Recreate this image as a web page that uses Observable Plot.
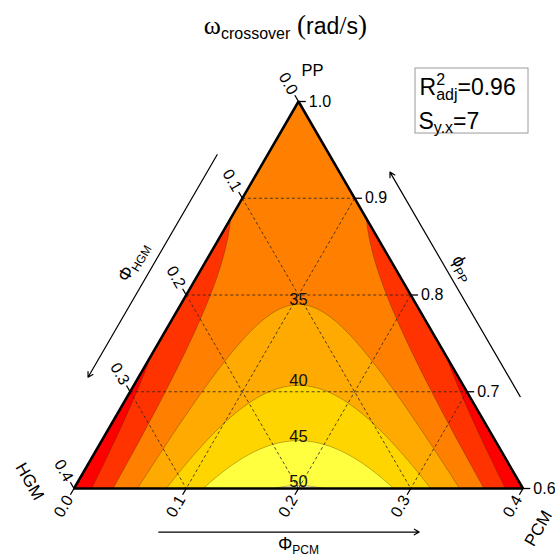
<!DOCTYPE html>
<html>
<head>
<meta charset="utf-8">
<script src="https://cdn.jsdelivr.net/npm/d3@7"></script>
<script src="https://cdn.jsdelivr.net/npm/@observablehq/plot@0.6"></script>
<style>
  body { margin: 0; background: #fff; }
  #chart { width: 555px; height: 556px; }
</style>
</head>
<body>
<div id="chart"></div>
<script>
// Mixture components; fractions PP + PCM + HGM = 1
const components = ["PP", "PCM", "HGM"];

// Scheffé quadratic mixture model of the crossover frequency (rad/s)
const linearCoef = [34.6, 5.7, 5.7];            // PP, PCM, HGM
const blendPairs = [[0, 1], [0, 2], [1, 2]];    // PP·PCM, PP·HGM, PCM·HGM
const blendCoef = [-10.5, -10.5, 746];

// Fit statistics
const r2adj = "0.96";
const syx = "7";

// Contour levels and band colours (below 20, 20–25, …, above 50)
const levels = [20, 25, 30, 35, 40, 45, 50];
const bandColors = ["#e00000", "#ff0000", "#ff3300", "#ff8000", "#ffaa00", "#ffd500", "#ffff40", "#f8f4b8"];
const labelledLevels = [35, 40, 45, 50];

// Axis ticks and interior grid lines
const ppTicks = [0.6, 0.7, 0.8, 0.9, 1.0];
const pcmTicks = [0.0, 0.1, 0.2, 0.3, 0.4];
const hgmTicks = [0.0, 0.1, 0.2, 0.3, 0.4];
const ppGrid = [0.7, 0.8, 0.9];
const pcmGrid = [0.1, 0.2, 0.3];
const hgmGrid = [0.1, 0.2, 0.3];

// ---------------------------------------------------------------
// Ternary → plane: u = PCM − HGM (horizontal), v = PP (vertical)
const T = (pp, pcm, hgm) => ({u: pcm - hgm, v: pp});
const fromUV = (u, v) => { const s = 1 - v; return [v, (s + u) / 2, (s - u) / 2]; };

function response(pp, pcm, hgm) {
  const x = [pp, pcm, hgm];
  let z = 0;
  linearCoef.forEach((b, i) => { z += b * x[i]; });
  blendPairs.forEach(([i, j], k) => { z += blendCoef[k] * x[i] * x[j]; });
  return z;
}

// crest of each labelled contour on the PCM = HGM line
function crest(level) {
  let lo = 0.6, hi = 1.0;
  for (let k = 0; k < 60; k++) {
    const mid = (lo + hi) / 2;
    if (response(...fromUV(0, mid)) >= level) lo = mid; else hi = mid;
  }
  return lo;
}

const tickExt = 0.0065, labelExt = 0.0085;
const fmt = d3.format(".1f");

const gridLines = [
  ...ppGrid.map(p => ({a: T(p, 0, 1 - p), b: T(p, 1 - p, 0)})),
  ...pcmGrid.map(c => ({a: T(1 - c, c, 0), b: T(0.6, c, 0.4 - c)})),
  ...hgmGrid.map(h => ({a: T(1 - h, 0, h), b: T(0.6, 0.4 - h, h)}))
];
const tickLines = [
  ...ppTicks.map(p => ({a: T(p, 1 - p, 0), b: T(p, 1 - p + tickExt, -tickExt)})),
  ...hgmTicks.map(h => ({a: T(1 - h, 0, h), b: T(1 - h + tickExt, -tickExt, h)})),
  ...pcmTicks.map(c => ({a: T(0.6, c, 0.4 - c), b: T(0.6 - tickExt, c, 0.4 - c + tickExt)}))
];
const corners = [T(1, 0, 0), T(0.6, 0.4, 0), T(0.6, 0, 0.4)];

// axis direction arrows, offset outside each edge
const arrowOff = 0.045;
const arrows = [
  {a: T(1 + arrowOff - 0.10, -arrowOff, 0.10), b: T(1 + arrowOff - 0.33, -arrowOff, 0.33)},
  {a: T(0.695, 1 - 0.695 + arrowOff, -arrowOff), b: T(0.927, 1 - 0.927 + arrowOff, -arrowOff)},
  {a: T(0.6 - arrowOff, 0.098, 0.4 + arrowOff - 0.098), b: T(0.6 - arrowOff, 0.33, 0.4 + arrowOff - 0.33)}
];

const rich = {
  "TITLE": `<tspan font-family="Liberation Serif, serif" font-size="26">ω</tspan><tspan font-size="16" dy="5">crossover</tspan><tspan font-family="Liberation Serif, serif" font-size="27" dy="-5"> (</tspan><tspan font-size="23">rad</tspan><tspan font-family="Liberation Serif, serif" font-size="26">/</tspan><tspan font-size="23">s</tspan><tspan font-family="Liberation Serif, serif" font-size="27">)</tspan>`,
  "R2": `R<tspan font-size="16" dy="-10">2</tspan><tspan font-size="16" dx="-8.9" dy="15">adj</tspan><tspan dy="-5">=${r2adj}</tspan>`,
  "SYX": `S<tspan font-size="16" dy="4">y.x</tspan><tspan dy="-4">=${syx}</tspan>`,
  "PHI_HGM": `<tspan font-size="18">Φ</tspan><tspan font-size="12" dy="4">HGM</tspan>`,
  "PHI_PP": `<tspan font-size="18">ϕ</tspan><tspan font-size="12" dy="4">PP</tspan>`,
  "PHI_PCM": `<tspan font-size="18">Φ</tspan><tspan font-size="12" dy="4">PCM</tspan>`
};

const plot = Plot.plot({
  width: 555,
  height: 556,
  marginLeft: 73.5,
  marginRight: 32.5,
  marginTop: 101,
  marginBottom: 68,
  style: {fontFamily: "Liberation Sans, Arial, sans-serif", background: "#fff"},
  x: {domain: [-0.4, 0.4], axis: null},
  y: {domain: [0.6, 1.0], axis: null},
  color: {type: "threshold", domain: levels, range: bandColors},
  marks: [
    Plot.contour({
      fill: (u, v) => response(...fromUV(u, v)),
      x1: -0.41, x2: 0.41, y1: 0.595, y2: 1.005,
      thresholds: [10, ...levels],
      pixelSize: 1,
      stroke: "#3a2a00", strokeOpacity: 0.55, strokeWidth: 0.6
    }),
    Plot.link(gridLines, {
      x1: d => d.a.u, y1: d => d.a.v, x2: d => d.b.u, y2: d => d.b.v,
      stroke: "#222", strokeWidth: 0.8, strokeDasharray: "3,2.5"
    }),
    Plot.line(corners, {x: "u", y: "v", curve: "linear-closed", stroke: "black", strokeWidth: 2.5, strokeLinejoin: "miter"}),
    Plot.link(tickLines, {
      x1: d => d.a.u, y1: d => d.a.v, x2: d => d.b.u, y2: d => d.b.v,
      stroke: "black", strokeWidth: 1.3
    }),
    // tick labels
    Plot.text(ppTicks, {x: p => 1 - p + 2 * tickExt, y: p => p, text: fmt, textAnchor: "start", dx: 3, fontSize: 16}),
    Plot.text(hgmTicks, {x: h => -labelExt - h, y: h => 1 - h + labelExt, text: fmt, textAnchor: "end", rotate: 60, fontSize: 16}),
    Plot.text(pcmTicks, {x: c => 2 * c - 0.4 - labelExt, y: 0.6 - labelExt, text: fmt, textAnchor: "end", rotate: -60, fontSize: 16}),
    // contour labels at the crest of each curve
    Plot.text(labelledLevels, {x: 0, y: crest, text: d => String(d), lineAnchor: "bottom", dy: 1, fontSize: 16.5, fill: "#111"}),
    // component names
    Plot.text(["PP"], {x: 0.0249, y: 1.032, text: d => d, fontSize: 16.5}),
    Plot.text(["HGM"], {x: -0.479, y: 0.6072, text: d => d, fontSize: 17, rotate: 60}),
    Plot.text(["PCM"], {x: 0.4276, y: 0.5587, text: d => d, fontSize: 17, rotate: -60}),
    // direction arrows and their labels
    Plot.arrow(arrows, {
      x1: d => d.a.u, y1: d => d.a.v, x2: d => d.b.u, y2: d => d.b.v,
      stroke: "black", strokeWidth: 1.2, headLength: 7
    }),
    Plot.text(["PHI_HGM"], {x: -0.294, y: 0.834, text: d => d, rotate: -60, fontSize: 16}),
    Plot.text(["PHI_PP"], {x: 0.2922, y: 0.8274, text: d => d, rotate: 60, fontSize: 16}),
    Plot.text(["PHI_PCM"], {x: 0, y: 0.5415, text: d => d, fontSize: 16}),
    // title
    Plot.text(["TITLE"], {x: -0.0232, y: 1.0782, text: d => d, fontSize: 24}),
    // fit statistics box
    Plot.rect([0], {x1: 0.2085, x2: 0.4098, y1: 1.0341, y2: 0.9669, stroke: "#9a9a9a", strokeWidth: 1, fill: "none"}),
    Plot.text(["R2"], {x: 0.2156, y: 1.01385, text: d => d, textAnchor: "start", fontSize: 23}),
    Plot.text(["SYX"], {x: 0.2138, y: 0.9787, text: d => d, textAnchor: "start", fontSize: 23})
  ]
});

// restrict the filled contours to the simplex
const sx = plot.scale("x"), sy = plot.scale("y");
const ns = "http://www.w3.org/2000/svg";
const defs = document.createElementNS(ns, "defs");
const clip = document.createElementNS(ns, "clipPath");
clip.setAttribute("id", "simplex-clip");
const poly = document.createElementNS(ns, "polygon");
poly.setAttribute("points", corners.map(c => `${sx.apply(c.u)},${sy.apply(c.v)}`).join(" "));
clip.appendChild(poly);
defs.appendChild(clip);
plot.insertBefore(defs, plot.firstChild);
const contourG = plot.querySelector('g[aria-label="contour"]');
if (contourG) contourG.setAttribute("clip-path", "url(#simplex-clip)");

// sub- and superscripts in labels
plot.querySelectorAll("text").forEach(t => {
  const key = t.textContent;
  if (rich[key]) t.innerHTML = rich[key];
});

document.getElementById("chart").appendChild(plot);
</script>
</body>
</html>
